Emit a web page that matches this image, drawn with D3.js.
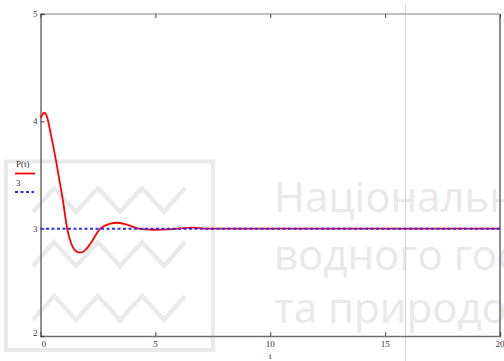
<!DOCTYPE html>
<html>
    <head>
        <meta charset="utf-8">
        <title>P(t)</title>
        <script src="https://cdnjs.cloudflare.com/ajax/libs/d3/7.8.5/d3.min.js"></script>
        <style>
            body { margin: 0; background: #ffffff; }
            svg { display: block; }
        </style>
    </head>
    <body>
        <script type="text/javascript">

            // Values
            var tValues = [0, 0.17, 0.3, 0.43, 0.6, 0.72, 0.85, 0.97, 1.06, 1.16, 1.28, 1.4, 1.55, 1.74, 1.95, 2.17, 2.6, 3.0, 3.36, 3.8, 4.27, 4.9, 5.7, 6.6, 7.3, 20];
            var pValues = [4.03, 4.08, 4.03, 3.9, 3.72, 3.58, 3.42, 3.27, 3.14, 3.0, 2.9, 2.83, 2.79, 2.776, 2.8, 2.86, 3.0, 3.045, 3.055, 3.035, 3.0, 2.99, 2.995, 3.01, 3.0, 3.0];
            var steadyValue = 3;
            var xTicks = [0, 5, 10, 15, 20];
            var yTicks = [2, 3, 4, 5];
            var legendLabels = ["P(t)", "3"];
            var watermarkLines = ["Національний університет", "водного господарства", "та природокористування"];

            var svg_width = 504;
            var svg_height = 361;

            // plot frame
            var plotLeft = 40.5, plotRight = 500, plotTop = 14, plotBottom = 336;

            var svg = d3.select("body")
                      .append("svg")
                      .attr("width", svg_width)
                      .attr("height", svg_height);

            var xScale = d3.scaleLinear().domain([0, 20]).range([plotLeft, plotRight]);
            var yScale = d3.scaleLinear().domain([2, 5]).range([plotBottom, plotTop]);

            // Watermark (behind everything)
            var wm = svg.append("g").attr("class", "watermark");
            wm.append("path")
              .attr("d", "M6,161.5 H213 V350 H6 Z")
              .attr("fill", "none")
              .attr("stroke", "#eaeaea")
              .attr("stroke-width", 4);
            [212, 266, 320].forEach(function(base) {
                var pts = [33, 54, 76, 98, 120, 142, 164, 185].map(function(x, i) {
                    return [x, i % 2 == 0 ? base : base - 24];
                });
                wm.append("path")
                  .attr("d", d3.line()(pts))
                  .attr("fill", "none")
                  .attr("stroke", "#eaeaea")
                  .attr("stroke-width", 4.5);
            });
            wm.selectAll("text")
              .data(watermarkLines)
              .enter()
              .append("text")
              .attr("x", 274)
              .attr("y", function(d, i) { return [211.5, 270, 323][i]; })
              .attr("font-family", "'Open Sans', sans-serif")
              .attr("font-size", "42px")
              .attr("fill", "#e9e9e9")
              .text(function(d) { return d; });

            // Gray vertical line
            svg.append("line")
               .attr("x1", 405.5).attr("x2", 405.5)
               .attr("y1", 4).attr("y2", svg_height)
               .attr("stroke", "#d4d4d4")
               .attr("stroke-width", 1);

            // Frame
            svg.append("line").attr("x1", plotLeft).attr("x2", plotRight).attr("y1", plotTop).attr("y2", plotTop)
               .attr("stroke", "#a8a8a8").attr("stroke-width", 1.5);
            svg.append("line").attr("x1", plotRight).attr("x2", plotRight).attr("y1", plotTop).attr("y2", plotBottom)
               .attr("stroke", "#8c8c8c").attr("stroke-width", 2);

            // Axes
            var xAxis = svg.append("g")
                           .attr("transform", "translate(0," + plotBottom + ")")
                           .call(d3.axisTop(xScale).tickValues(xTicks).tickSize(4).tickFormat(""));
            var yAxis = svg.append("g")
                           .attr("transform", "translate(" + plotLeft + ",0)")
                           .call(d3.axisRight(yScale).tickValues(yTicks).tickSize(4).tickFormat(""));
            var topAxis = svg.append("g")
               .attr("transform", "translate(0," + plotTop + ")")
               .call(d3.axisBottom(xScale).tickValues(xTicks).tickSize(4).tickFormat(""));
            topAxis.select(".domain").remove();
            [xAxis, yAxis].forEach(function(a) {
                a.select(".domain").attr("stroke", "#6e6e6e").attr("stroke-width", 1.5);
            });
            svg.selectAll(".tick line").attr("stroke", "#444444");

            // Tick labels
            svg.selectAll(".xlabel")
               .data(xTicks)
               .enter()
               .append("text")
               .attr("class", "xlabel")
               .attr("x", function(d) { return d == 0 ? xScale(d) + 1 : xScale(d); })
               .attr("y", 347)
               .attr("text-anchor", function(d) { return d == 0 ? "start" : "middle"; })
               .attr("font-family", "'Liberation Serif', serif")
               .attr("font-size", "9px")
               .attr("fill", "#333333")
               .text(function(d) { return d; });

            svg.selectAll(".ylabel")
               .data(yTicks)
               .enter()
               .append("text")
               .attr("class", "ylabel")
               .attr("x", plotLeft - 3)
               .attr("y", function(d) { return d == 2 ? yScale(d) : yScale(d) + 3; })
               .attr("text-anchor", "end")
               .attr("font-family", "'Liberation Serif', serif")
               .attr("font-size", "9px")
               .attr("fill", "#333333")
               .text(function(d) { return d; });

            svg.append("text")
               .attr("x", xScale(10))
               .attr("y", 359)
               .attr("text-anchor", "middle")
               .attr("font-family", "'Liberation Serif', serif")
               .attr("font-size", "9px")
               .attr("fill", "#333333")
               .text("t");

            // Curves
            var line = d3.line()
                         .x(function(d, i) { return xScale(tValues[i]); })
                         .y(function(d) { return yScale(d); })
                         .curve(d3.curveMonotoneX);

            svg.append("path")
               .attr("d", line(pValues))
               .attr("fill", "none")
               .attr("stroke", "#ff0000")
               .attr("stroke-width", 1.8);

            svg.append("line")
               .attr("x1", xScale(0)).attr("x2", xScale(20))
               .attr("y1", yScale(steadyValue)).attr("y2", yScale(steadyValue))
               .attr("stroke", "#2b2bff")
               .attr("stroke-width", 2)
               .attr("stroke-dasharray", "3,2.5");

            // Legend
            var legend = svg.append("g");
            legend.selectAll("text")
                  .data(legendLabels)
                  .enter()
                  .append("text")
                  .attr("x", 16)
                  .attr("y", function(d, i) { return 167 + i * 19; })
                  .attr("font-family", "'Liberation Serif', serif")
                  .attr("font-size", "9px")
                  .attr("fill", "#333333")
                  .text(function(d) { return d; });
            legend.append("line")
                  .attr("x1", 15).attr("x2", 35).attr("y1", 173.5).attr("y2", 173.5)
                  .attr("stroke", "#ff0000").attr("stroke-width", 1.8);
            legend.append("line")
                  .attr("x1", 15).attr("x2", 34).attr("y1", 192).attr("y2", 192)
                  .attr("stroke", "#2b2bff").attr("stroke-width", 2)
                  .attr("stroke-dasharray", "3,2.5");

        </script>
    </body>
</html>
